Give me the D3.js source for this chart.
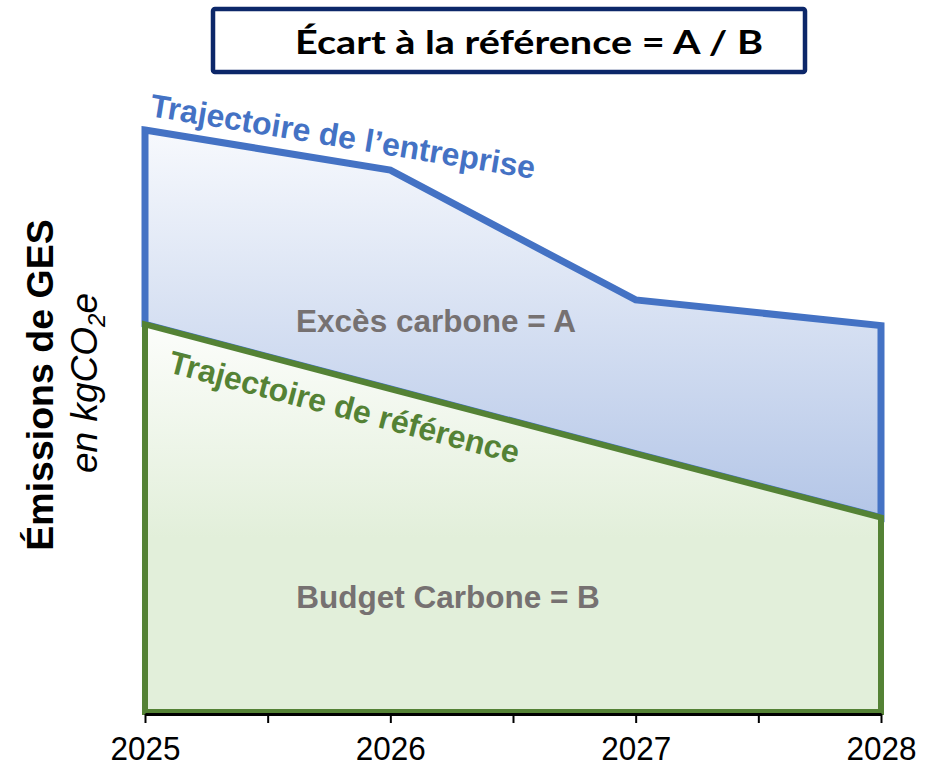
<!DOCTYPE html>
<html>
<head>
<meta charset="utf-8">
<script src="https://cdn.jsdelivr.net/npm/d3@7"></script>
<style>
  body { margin: 0; background: #fff; }
  svg { display: block; }
</style>
</head>
<body>
<div id="chart"></div>
<script>
(function () {
  // data
  var years = [2025, 2026, 2027, 2028];
  var entreprise = [100, 93.1, 70.8, 66.4];   // trajectoire de l'entreprise
  var reference = [66.6, 55.5, 44.4, 33.4];   // trajectoire de référence
  var tickYears = [2025, 2025.5, 2026, 2026.5, 2027, 2027.5, 2028];
  var title = "Écart à la référence = A / B";
  var labelEntreprise = "Trajectoire de l\u2019entreprise";
  var labelReference = "Trajectoire de référence";
  var labelA = "Excès carbone = A";
  var labelB = "Budget Carbone = B";

  var width = 930, height = 770;
  var blue = "#4472c4", green = "#548235", grey = "#767171";

  var svg = d3.select("#chart").append("svg")
    .attr("width", width)
    .attr("height", height);

  var x = d3.scaleLinear().domain([2025, 2028]).range([145, 881]);
  var y = d3.scaleLinear().domain([0, 100]).range([712, 130]);

  var rows = years.map(function (yr, i) {
    return {year: yr, ent: entreprise[i], ref: reference[i]};
  });

  var defs = svg.append("defs");
  var gb = defs.append("linearGradient").attr("id", "gBlue")
    .attr("x1", 0).attr("y1", 0).attr("x2", 0).attr("y2", 1);
  gb.append("stop").attr("offset", 0).attr("stop-color", "#f7f9fd");
  gb.append("stop").attr("offset", 1).attr("stop-color", "#b4c6e7");
  var gg = defs.append("linearGradient").attr("id", "gGreen")
    .attr("x1", 0).attr("y1", 0).attr("x2", 0).attr("y2", 1);
  gg.append("stop").attr("offset", 0).attr("stop-color", "#fcfdfb");
  gg.append("stop").attr("offset", 0.55).attr("stop-color", "#e2efda");
  gg.append("stop").attr("offset", 1).attr("stop-color", "#e2efda");

  // excès carbone (between the two trajectories)
  var areaA = d3.area()
    .x(function (d) { return x(d.year); })
    .y0(function (d) { return y(d.ref); })
    .y1(function (d) { return y(d.ent); });
  svg.append("path").datum(rows)
    .attr("d", areaA(rows) + "Z")
    .attr("fill", "url(#gBlue)")
    .attr("stroke", blue)
    .attr("stroke-width", 7)
    .attr("stroke-linejoin", "miter");

  // budget carbone (under the reference)
  var areaB = d3.area()
    .x(function (d) { return x(d.year); })
    .y0(y(0))
    .y1(function (d) { return y(d.ref); });
  svg.append("path").datum(rows)
    .attr("d", areaB(rows) + "Z")
    .attr("fill", "url(#gGreen)")
    .attr("stroke", green)
    .attr("stroke-width", 6)
    .attr("stroke-linejoin", "miter");

  // x axis
  var axis = svg.append("g")
    .attr("transform", "translate(0," + 714 + ")")
    .call(d3.axisBottom(x)
      .tickValues(tickYears)
      .tickSize(9)
      .tickSizeOuter(0)
      .tickFormat(function (d) { return d % 1 === 0 ? d : ""; }));
  axis.select(".domain").attr("stroke", "#000").attr("stroke-width", 3);
  axis.selectAll(".tick line").attr("stroke", "#000").attr("stroke-width", 2);
  axis.selectAll(".tick text")
    .attr("y", 46).attr("dy", 0)
    .attr("fill", "#000")
    .attr("textLength", function (d) { return d % 1 === 0 ? 70 : null; })
    .attr("lengthAdjust", "spacingAndGlyphs")
    .style("font-family", "'Liberation Sans Narrow', 'Arial Narrow', sans-serif")
    .style("font-size", "33px");

  // title box
  svg.append("rect")
    .attr("x", 213).attr("y", 9)
    .attr("width", 592).attr("height", 63)
    .attr("rx", 2)
    .attr("fill", "#fff")
    .attr("stroke", "#0c2769")
    .attr("stroke-width", 4.5);
  svg.append("text")
    .attr("x", 529).attr("y", 54)
    .attr("text-anchor", "middle")
    .attr("textLength", 468)
    .attr("lengthAdjust", "spacingAndGlyphs")
    .style("font-family", "Lato, 'Open Sans', sans-serif")
    .style("font-weight", "bold")
    .style("font-size", "32px")
    .attr("fill", "#000")
    .text(title);

  // labels along the trajectories
  function angle(a, b, vals) {
    return Math.atan2(y(vals[b]) - y(vals[a]), x(years[b]) - x(years[a])) * 180 / Math.PI;
  }
  svg.append("text")
    .attr("transform", "translate(149,116) rotate(" + angle(0, 1, entreprise) + ")")
    .style("font-family", "'Liberation Sans', Arial, sans-serif")
    .style("font-weight", "bold")
    .style("font-size", "32px")
    .attr("fill", blue)
    .text(labelEntreprise);
  svg.append("text")
    .attr("transform", "translate(167,372) rotate(" + angle(0, 3, reference) + ")")
    .style("font-family", "'Liberation Sans', Arial, sans-serif")
    .style("font-weight", "bold")
    .style("font-size", "32px")
    .attr("fill", green)
    .text(labelReference);

  // area labels
  [[labelA, 436, 332], [labelB, 448, 608]].forEach(function (l) {
    svg.append("text")
      .attr("x", l[1]).attr("y", l[2])
      .attr("text-anchor", "middle")
      .style("font-family", "'Liberation Sans', Arial, sans-serif")
      .style("font-weight", "bold")
      .style("font-size", "31.5px")
      .attr("fill", grey)
      .text(l[0]);
  });

  // y axis title
  svg.append("text")
    .attr("transform", "translate(53,385) rotate(-90)")
    .attr("text-anchor", "middle")
    .style("font-family", "'Liberation Sans', Arial, sans-serif")
    .style("font-weight", "bold")
    .style("font-size", "37.5px")
    .attr("fill", "#000")
    .text("Émissions de GES");
  var sub = svg.append("text")
    .attr("transform", "translate(97,383) rotate(-90)")
    .attr("text-anchor", "middle")
    .style("font-family", "'Liberation Sans', Arial, sans-serif")
    .style("font-style", "italic")
    .style("font-size", "37px")
    .attr("fill", "#000");
  sub.append("tspan").text("en kgCO");
  sub.append("tspan").attr("dy", 8).style("font-size", "24px").text("2");
  sub.append("tspan").attr("dy", -8).text("e");
})();
</script>
</body>
</html>
